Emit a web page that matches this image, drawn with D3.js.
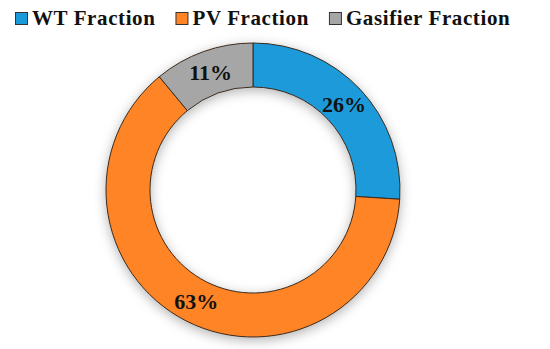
<!DOCTYPE html>
<html>
<head>
<meta charset="utf-8">
<script src="https://cdn.jsdelivr.net/npm/d3@7"></script>
<style>
  body { margin: 0; background: #fff; }
  svg { display: block; }
</style>
</head>
<body>
<svg id="chart"></svg>
<script>
const width = 550;
const height = 349;

// fractions
const categories = ["WT Fraction", "PV Fraction", "Gasifier Fraction"];
const values = [26, 63, 11];
const colors = ["#1a9ad9", "#fe8426", "#a6a6a6"];

const serif = "'Liberation Serif', 'Times New Roman', 'DejaVu Serif', serif";

const cx = 253, cy = 190;
const outerR = 147, innerR = 103;

const svg = d3.select("#chart")
    .attr("width", width)
    .attr("height", height);

const defs = svg.append("defs");
const shadow = defs.append("filter")
    .attr("id", "shadow")
    .attr("x", "-20%").attr("y", "-20%")
    .attr("width", "140%").attr("height", "140%");
shadow.append("feDropShadow")
    .attr("dx", 0)
    .attr("dy", 3)
    .attr("stdDeviation", 6)
    .attr("flood-color", "#000")
    .attr("flood-opacity", 0.3);

const data = categories.map((c, i) => ({ name: c, value: values[i] }));

const pie = d3.pie()
    .sort(null)
    .value(d => d.value);

const arc = d3.arc()
    .innerRadius(innerR)
    .outerRadius(outerR);

const labelArc = d3.arc()
    .innerRadius((innerR + outerR) / 2)
    .outerRadius((innerR + outerR) / 2);

const color = d3.scaleOrdinal()
    .domain(categories)
    .range(colors);

const g = svg.append("g")
    .attr("transform", `translate(${cx},${cy})`);

const arcs = pie(data);

g.append("g")
    .attr("filter", "url(#shadow)")
    .selectAll("path")
    .data(arcs)
    .enter().append("path")
    .attr("d", arc)
    .attr("fill", d => color(d.data.name))
    .attr("stroke", "#3b2a1c")
    .attr("stroke-width", 1);

g.selectAll(".label")
    .data(arcs)
    .enter().append("text")
    .attr("class", "label")
    .attr("transform", d => `translate(${labelArc.centroid(d)})`)
    .attr("text-anchor", "middle")
    .attr("dy", "0.35em")
    .attr("font-family", serif)
    .attr("font-weight", "bold")
    .attr("fill", "#111")
    .attr("font-size", 22)
    .text(d => d.data.value + "%");

// legend, flowing left to right
const legend = svg.append("g")
    .attr("transform", "translate(15,0)");

let lx = 0;
categories.forEach(c => {
    const item = legend.append("g")
        .attr("transform", `translate(${lx},0)`);
    item.append("rect")
        .attr("x", 0.5)
        .attr("y", 12.5)
        .attr("width", 12)
        .attr("height", 12)
        .attr("fill", color(c))
        .attr("stroke", "#333")
        .attr("stroke-width", 1);
    const t = item.append("text")
        .attr("x", 17)
        .attr("y", 25)
        .attr("font-family", serif)
        .attr("font-weight", "bold")
        .attr("fill", "#111")
        .attr("font-size", 21)
        .attr("letter-spacing", 0.6)
        .text(c);
    lx += 17 + t.node().getComputedTextLength() + 20;
});
</script>
</body>
</html>
